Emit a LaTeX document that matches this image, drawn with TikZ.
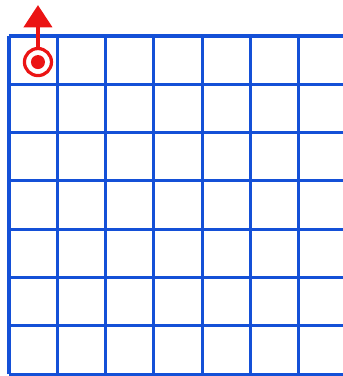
\documentclass[tikz,border=0pt]{standalone}
\usetikzlibrary{arrows.meta}
\definecolor{gridblue}{RGB}{20,80,215}
\definecolor{chargered}{RGB}{235,20,20}
\begin{document}
\begin{tikzpicture}[
gridline/.style = {line width=1.8pt, gridblue},
ring/.style = {circle, draw=chargered, line width=1.9pt, minimum size=0.56cm, inner sep=0pt},
field/.style = {line width=2.3pt, chargered,
        -{Triangle[length=0.46cm, width=0.58cm]}},
]
        \useasboundingbox (-0.186,-0.04) rectangle (6.915,7.745);

        \begin{scope}
        \clip (-0.186,-0.04) rectangle (6.915,7.745);
        \foreach \x in {0,...,7}
            \draw[gridline] (\x,0) -- (\x,7);
        \foreach \y in {0,...,7}
            \draw[gridline] (0,\y) -- (7.2,\y);
        \end{scope}

        % charge with its field arrow
        \node[ring] (q) at (0.6,6.46) {};
        \fill[chargered] (q.center) circle (0.145);
        \coordinate (tip) at (0.6,7.64);
        \draw[field] (q) -- (tip);

    \end{tikzpicture}
\end{document}
